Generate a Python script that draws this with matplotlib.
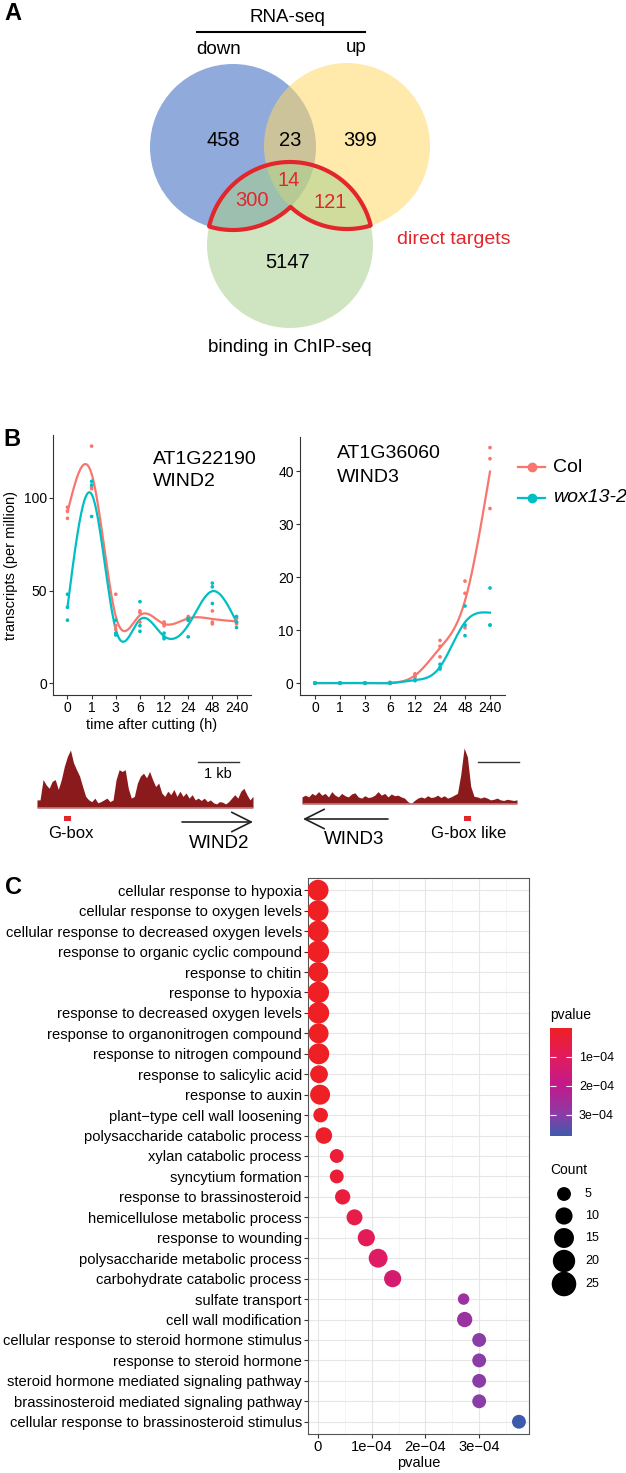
import numpy as np
import matplotlib
matplotlib.use('Agg')
import matplotlib.pyplot as plt
from matplotlib.patches import Circle, Rectangle
from matplotlib.colors import LinearSegmentedColormap, Normalize
from matplotlib.cm import ScalarMappable

plt.rcParams['font.family'] = ['Liberation Sans', 'DejaVu Sans']

# ---------------- data ----------------
# panel A: venn counts
venn_regions = ['down', 'down&up', 'up', 'down&chip', 'all', 'up&chip', 'chip']
venn_counts = [458, 23, 399, 300, 14, 121, 5147]

# panel B: RNA-seq time course (3 replicates per time point)
time_labels = ['0', '1', '3', '6', '12', '24', '48', '240']
wind2_col = [[95, 93, 89], [128, 106, 105], [48, 31, 29], [39, 38, 33],
             [33, 32, 31], [36, 35, 34], [39, 33, 32], [35, 33, 32]]
wind2_wox = [[48, 41, 34], [109, 107, 90], [34, 27, 26], [44, 31, 28],
             [27, 25, 24], [35, 34, 25], [54, 52, 43], [36, 33, 30]]
wind3_col = [[0.1, 0.05, 0.0], [0.1, 0.05, 0.0], [0.1, 0.05, 0.0], [0.2, 0.1, 0.0],
             [1.8, 1.5, 1.2], [8.1, 7.0, 5.0], [19.3, 17.0, 10.5], [44.5, 42.4, 33.0]]
wind3_wox = [[0.1, 0.05, 0.0], [0.1, 0.05, 0.0], [0.1, 0.05, 0.0], [0.1, 0.05, 0.0],
             [0.7, 0.6, 0.5], [3.6, 3.0, 2.7], [14.6, 11.0, 9.0], [18.0, 11.0, 11.0]]

# ChIP-seq coverage (relative signal, equal-width bins)
wind2_track = [14, 14, 49, 40, 34, 46, 49, 32, 49, 72, 89, 100, 78, 66, 55, 37, 20,
               14, 11, 17, 9, 11, 14, 17, 11, 14, 49, 66, 63, 66, 34, 17, 20, 43,
               55, 60, 52, 63, 49, 37, 43, 26, 20, 29, 23, 32, 20, 29, 20, 26, 17,
               23, 14, 17, 13, 17, 11, 14, 9, 7, 11, 10, 7, 11, 17, 23, 17, 29,
               34, 23, 14, 20]
wind3_track = [12, 15, 12, 18, 15, 21, 15, 18, 12, 21, 15, 12, 18, 14, 12, 17, 19,
               12, 10, 14, 11, 12, 15, 21, 15, 18, 12, 17, 14, 15, 12, 10, 4, 1,
               6, 10, 12, 10, 14, 11, 12, 15, 11, 14, 10, 12, 15, 18, 50, 95, 80,
               30, 13, 12, 10, 12, 10, 7, 8, 10, 7, 6, 8, 7, 6, 7]

# panel C: GO enrichment
go_terms = ['cellular response to hypoxia',
            'cellular response to oxygen levels',
            'cellular response to decreased oxygen levels',
            'response to organic cyclic compound',
            'response to chitin',
            'response to hypoxia',
            'response to decreased oxygen levels',
            'response to organonitrogen compound',
            'response to nitrogen compound',
            'response to salicylic acid',
            'response to auxin',
            'plant\u2212type cell wall loosening',
            'polysaccharide catabolic process',
            'xylan catabolic process',
            'syncytium formation',
            'response to brassinosteroid',
            'hemicellulose metabolic process',
            'response to wounding',
            'polysaccharide metabolic process',
            'carbohydrate catabolic process',
            'sulfate transport',
            'cell wall modification',
            'cellular response to steroid hormone stimulus',
            'response to steroid hormone',
            'steroid hormone mediated signaling pathway',
            'brassinosteroid mediated signaling pathway',
            'cellular response to brassinosteroid stimulus']
go_pvalue = [2e-7, 3e-7, 4e-7, 5e-7, 6e-7, 8e-7, 1.0e-6, 1.2e-6, 1.5e-6, 2.0e-6,
             4.0e-6, 5.0e-6, 1.1e-5, 3.5e-5, 3.5e-5, 4.6e-5, 6.8e-5, 9.0e-5,
             1.12e-4, 1.39e-4, 2.71e-4, 2.73e-4, 3.0e-4, 3.0e-4, 3.0e-4, 3.0e-4, 3.74e-4]
go_count = [17, 17, 17, 19, 15, 18, 18, 15, 17, 11, 15, 6, 9, 5, 5, 7, 8, 10, 13,
            10, 2, 7, 5, 5, 5, 5, 5]
count_breaks = [5, 10, 15, 20, 25]

# ---------------- layout helpers ----------------
W, H = 626, 1473
fig = plt.figure(figsize=(W / 100, H / 100), dpi=100)


def box(l, t, w, h):
    return [l / W, 1 - (t + h) / H, w / W, h / H]


RED = '#F8766D'
TEAL = '#00BFC4'
VRED = '#e3262b'


def natural_spline(x, y, xs):
    x = np.asarray(x, float)
    y = np.asarray(y, float)
    n = len(x)
    h = np.diff(x)
    A = np.zeros((n, n))
    r = np.zeros(n)
    A[0, 0] = A[-1, -1] = 1
    for i in range(1, n - 1):
        A[i, i - 1] = h[i - 1]
        A[i, i] = 2 * (h[i - 1] + h[i])
        A[i, i + 1] = h[i]
        r[i] = 3 * ((y[i + 1] - y[i]) / h[i] - (y[i] - y[i - 1]) / h[i - 1])
    c = np.linalg.solve(A, r)
    b = (y[1:] - y[:-1]) / h - h * (2 * c[:-1] + c[1:]) / 3
    d = (c[1:] - c[:-1]) / (3 * h)
    idx = np.clip(np.searchsorted(x, xs) - 1, 0, n - 2)
    dx = xs - x[idx]
    return y[idx] + b[idx] * dx + c[idx] * dx ** 2 + d[idx] * dx ** 3


def time_plot(ax, col, wox, ylim, yticks):
    xpos = np.arange(1, len(time_labels) + 1)
    xs = np.linspace(1, len(time_labels), 300)
    for reps, color in [(col, RED), (wox, TEAL)]:
        reps = np.array(reps)
        for j in range(reps.shape[1]):
            ax.scatter(xpos, reps[:, j], s=7, color=color, edgecolors='none', zorder=3)
        ax.plot(xs, natural_spline(xpos, reps.mean(axis=1), xs), color=color, lw=1.6, zorder=2)
    ax.set_xlim(0.4, len(time_labels) + 0.6)
    ax.set_ylim(*ylim)
    ax.set_xticks(xpos)
    ax.set_xticklabels(time_labels)
    ax.set_yticks(yticks)
    for s in ['top', 'right']:
        ax.spines[s].set_visible(False)
    for s in ['left', 'bottom']:
        ax.spines[s].set_color('#333333')
        ax.spines[s].set_linewidth(0.8)
    ax.tick_params(length=3, width=0.8, color='#333333', labelsize=10, pad=1.5)


# ---------------- panel B plots ----------------
axl = fig.add_axes(box(53, 435, 198, 260))
time_plot(axl, wind2_col, wind2_wox, (-6.4, 134), [0, 50, 100])
axl.set_xlabel('time after cutting (h)', fontsize=10.5, labelpad=2)
axl.set_ylabel('transcripts (per million)', fontsize=10.5, labelpad=4)

axr = fig.add_axes(box(300, 437, 205, 258))
time_plot(axr, wind3_col, wind3_wox, (-2.2, 46.5), [0, 10, 20, 30, 40])

# ChIP-seq tracks
DARK = '#8b1a1c'
tl = fig.add_axes(box(37, 745, 216, 63))
tl.fill_between(np.arange(len(wind2_track)), wind2_track, 0, color=DARK, lw=0)
tl.set_xlim(0, len(wind2_track) - 1)
tl.set_ylim(0, 100 * 63 / 58)
tl.axhline(0, color='#e07070', lw=1.2)
tl.axis('off')

tr = fig.add_axes(box(302, 740, 215, 64))
tr.fill_between(np.arange(len(wind3_track)), wind3_track, 0, color=DARK, lw=0)
tr.set_xlim(0, len(wind3_track) - 1)
tr.set_ylim(0, 100 * 64 / 59)
tr.axhline(0, color='#e07070', lw=1.2)
tr.axis('off')

# ---------------- panel C ----------------
axc = fig.add_axes(box(308, 878, 221, 556))
ypos = np.arange(len(go_terms))
pv = np.array(go_pvalue)
cnt = np.array(go_count)
cmap = LinearSegmentedColormap.from_list(
    'pv', [(0, '#ee2024'), (0.27, '#e21b5e'), (0.535, '#c01a8c'), (0.8, '#8c3ca6'), (1, '#3e5bab')])
norm = Normalize(pv.min(), pv.max())


def dot_size(c):
    d = np.sqrt(90 + 20.5 * np.asarray(c, float))
    return (d * 0.72) ** 2


axc.scatter(pv, ypos, s=dot_size(cnt), c=pv, cmap=cmap, norm=norm, edgecolors='none', zorder=3)
rng = pv.max() - pv.min()
axc.set_xlim(pv.min() - 0.05 * rng, pv.max() + 0.05 * rng)
axc.set_ylim(len(go_terms) - 0.4, -0.6)
axc.set_yticks(ypos)
axc.set_yticklabels(go_terms)
axc.set_xticks([0, 1e-4, 2e-4, 3e-4])
axc.set_xticklabels(['0', '1e\u221204', '2e\u221204', '3e\u221204'])
axc.set_xticks([0.5e-4, 1.5e-4, 2.5e-4, 3.5e-4], minor=True)
axc.grid(True, which='major', color='#e6e6e6', lw=0.8, zorder=0)
axc.grid(True, which='minor', axis='x', color='#f2f2f2', lw=0.5, zorder=0)
axc.set_axisbelow(True)
for s in axc.spines.values():
    s.set_color('#555555')
    s.set_linewidth(0.8)
axc.tick_params(which='major', length=3, width=0.8, color='#333333', labelsize=10.6, pad=1.5)
axc.tick_params(which='minor', length=0)
axc.set_xlabel('pvalue', fontsize=10.5, labelpad=1)

# colorbar
cax = fig.add_axes(box(550, 1028, 22, 108))
cb = fig.colorbar(ScalarMappable(norm=norm, cmap=cmap), cax=cax)
cb.outline.set_visible(False)
cax.invert_yaxis()
cb.set_ticks([1e-4, 2e-4, 3e-4])
cb.set_ticklabels(['1e\u221204', '2e\u221204', '3e\u221204'])
cax.tick_params(left=True, right=True, direction='in', length=4, width=0.8,
                color='white', labelsize=9, pad=5)

# ---------------- overlay (pixel coordinates) ----------------
ov = fig.add_axes([0, 0, 1, 1], zorder=10)
ov.set_xlim(0, W)
ov.set_ylim(H, 0)
ov.axis('off')

# panel letters
for lab, x, y in [('A', 13, 14), ('B', 12, 440), ('C', 13, 887)]:
    ov.text(x, y, lab, fontsize=17, fontweight='bold', ha='center', va='center')

# venn
circ_b = (233, 147)
circ_y = (347, 146)
circ_g = (290, 245)
R = 83
ov.add_patch(Circle(circ_b, R, color='#4472c4', alpha=0.6, lw=0))
ov.add_patch(Circle(circ_y, R, color='#ffd966', alpha=0.55, lw=0))
ov.add_patch(Circle(circ_g, R, color='#a9d18e', alpha=0.55, lw=0))
gx, gy = np.meshgrid(np.linspace(180, 400, 900), np.linspace(140, 260, 500))


def inside(c):
    return R - np.hypot(gx - c[0], gy - c[1])


f = np.minimum(inside(circ_g), np.maximum(inside(circ_b), inside(circ_y)))
ov.contour(gx, gy, f, levels=[0], colors=[VRED], linewidths=3)

venn_xy = [(223, 140), (290, 140), (360, 140), (252, 201), (289, 181), (330, 202), (288, 263)]
for reg, n, (x, y) in zip(venn_regions, venn_counts, venn_xy):
    color = VRED if reg in ('down&chip', 'all', 'up&chip') else 'black'
    ov.text(x, y, str(n), fontsize=14.5, ha='center', va='center', color=color)
ov.text(287, 17, 'RNA-seq', fontsize=13.5, ha='center', va='center')
ov.plot([197, 365], [32, 32], color='black', lw=1.5)
ov.text(219, 49, 'down', fontsize=13.5, ha='center', va='center')
ov.text(356, 47, 'up', fontsize=13.5, ha='center', va='center')
ov.text(454, 240, 'direct targets', fontsize=14, ha='center', va='center', color=VRED)
ov.text(290, 347, 'binding in ChIP-seq', fontsize=13.5, ha='center', va='center')

# panel B labels
ov.text(153, 459, 'AT1G22190', fontsize=14, ha='left', va='center')
ov.text(153, 482, 'WIND2', fontsize=14, ha='left', va='center')
ov.text(337, 453, 'AT1G36060', fontsize=14, ha='left', va='center')
ov.text(337, 477, 'WIND3', fontsize=14, ha='left', va='center')
for y, c, lab, style in [(467, RED, 'Col', 'normal'), (498, TEAL, 'wox13-2', 'italic')]:
    ov.plot([518, 545], [y, y], color=c, lw=1.6)
    ov.plot([531.5], [y], 'o', color=c, ms=6)
    ov.text(553, y, lab, fontsize=14, ha='left', va='center', fontstyle=style)

# track annotations
ov.plot([198, 239], [762, 762], color='#333333', lw=1)
ov.text(218, 774, '1 kb', fontsize=10.5, ha='center', va='center')
ov.plot([478, 519], [762, 762], color='#333333', lw=1)
ov.add_patch(Rectangle((64, 816), 7, 5, color=VRED, lw=0))
ov.add_patch(Rectangle((464, 816), 7, 5, color=VRED, lw=0))
ov.text(71, 833, 'G-box', fontsize=12, ha='center', va='center')
ov.text(469, 833, 'G-box like', fontsize=12, ha='center', va='center')
ov.annotate('', xy=(253, 822), xytext=(182, 822),
            arrowprops=dict(arrowstyle='->,head_length=0.7,head_width=0.35', lw=1.2,
                            color='#222222', mutation_scale=20, shrinkA=0, shrinkB=0))
ov.annotate('', xy=(303, 819), xytext=(388, 819),
            arrowprops=dict(arrowstyle='->,head_length=0.7,head_width=0.35', lw=1.2,
                            color='#222222', mutation_scale=20, shrinkA=0, shrinkB=0))
ov.text(219, 843, 'WIND2', fontsize=13.5, ha='center', va='center')
ov.text(354, 839, 'WIND3', fontsize=13.5, ha='center', va='center')

# legends for panel C
ov.text(550, 1015, 'pvalue', fontsize=10, ha='left', va='center')
ov.text(550, 1170, 'Count', fontsize=10, ha='left', va='center')
leg_y = [1194, 1216, 1238, 1261, 1284]
ov.scatter([564] * len(count_breaks), leg_y, s=dot_size(count_breaks), color='black', edgecolors='none')
for y, c in zip(leg_y, count_breaks):
    ov.text(585, y, str(c), fontsize=9, ha='left', va='center')

fig.savefig('out.png', dpi=100)
